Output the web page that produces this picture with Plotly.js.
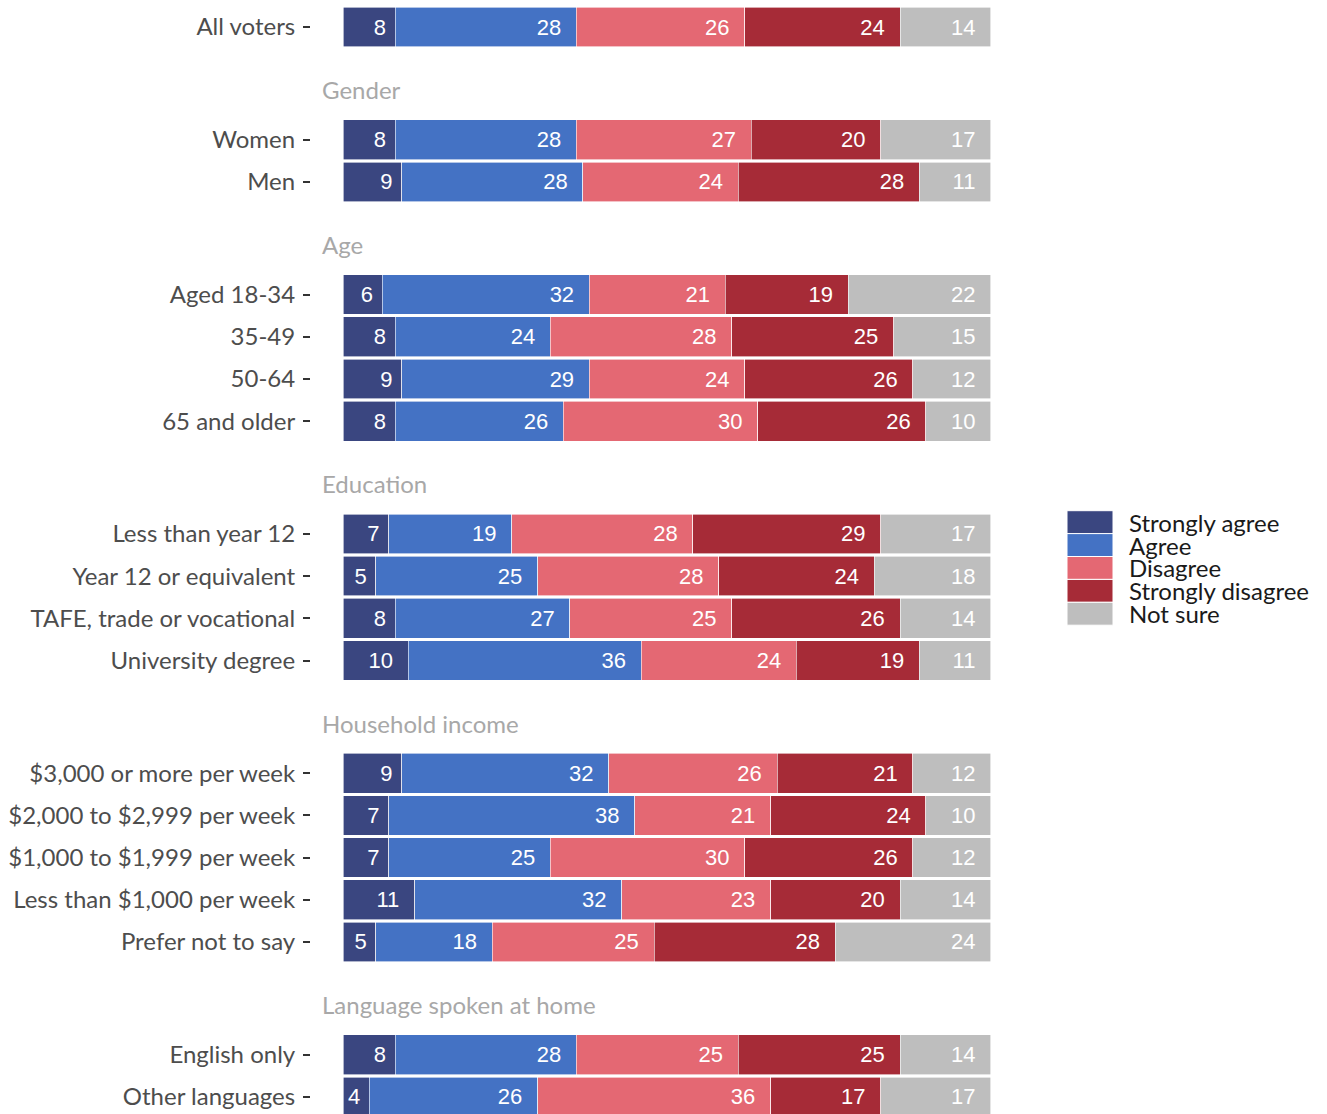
<!DOCTYPE html>
<html>
<head>
<meta charset="utf-8">
<script src="https://cdn.plot.ly/plotly-3.0.1.min.js"></script>
<style>html,body{margin:0;padding:0;overflow:hidden;background:#fff}</style>
</head>
<body>
<div id="chart" style="width:1327px;height:1118px"></div>
<script>
// ---- data ----
const categories = [
  "All voters",
  "Women", "Men",
  "Aged 18-34", "35-49", "50-64", "65 and older",
  "Less than year 12", "Year 12 or equivalent", "TAFE, trade or vocational", "University degree",
  "$3,000 or more per week", "$2,000 to $2,999 per week", "$1,000 to $1,999 per week", "Less than $1,000 per week", "Prefer not to say",
  "English only", "Other languages"
];
const groupOfRow = [0, 1,1, 2,2,2,2, 3,3,3,3, 4,4,4,4,4, 5,5];
const groupTitles = ["", "Gender", "Age", "Education", "Household income", "Language spoken at home"];

const seriesNames = ["Strongly agree", "Agree", "Disagree", "Strongly disagree", "Not sure"];
const stronglyAgree    = [8, 8, 9, 6, 8, 9, 8, 7, 5, 8, 10, 9, 7, 7, 11, 5, 8, 4];
const agree            = [28, 28, 28, 32, 24, 29, 26, 19, 25, 27, 36, 32, 38, 25, 32, 18, 28, 26];
const disagree         = [26, 27, 24, 21, 28, 24, 30, 28, 28, 25, 24, 26, 21, 30, 23, 25, 25, 36];
const stronglyDisagree = [24, 20, 28, 19, 25, 26, 26, 29, 24, 26, 19, 21, 24, 26, 20, 28, 25, 17];
const notSure          = [14, 17, 11, 22, 15, 12, 10, 17, 18, 14, 11, 12, 10, 12, 14, 24, 14, 17];
const seriesValues = [stronglyAgree, agree, disagree, stronglyDisagree, notSure];
const seriesColors = ["#3A4680", "#4472C4", "#E46873", "#A62B37", "#BEBEBE"];

// ---- layout geometry (pixels) ----
const W = 1327, H = 1118;
const ML = 311, MR = 304;
const topPad = 5.9, rowH = 42.2, gapH = 70.5;
const labelFont = "Lato, 'Open Sans', sans-serif";
const numFont = "'Liberation Sans', Arial, sans-serif";

const pad = v => String(v) + "\u00a0".repeat(String(v).length);

const nGroups = groupTitles.length;
const layout = {
  width: W, height: H,
  margin: {l: ML, r: MR, t: 0, b: 0, pad: 0},
  paper_bgcolor: "#ffffff", plot_bgcolor: "#ffffff",
  barmode: "stack", bargap: 0.06,
  showlegend: false,
  uniformtext: {minsize: 22, mode: "show"},
  xaxis: {range: [-5, 105], visible: false, domain: [0, 1], anchor: "y", fixedrange: true},
  annotations: [], shapes: []
};
const traces = [];
let cursor = topPad;
for (let g = 0; g < nGroups; g++) {
  const idx = [];
  groupOfRow.forEach((gg, i) => { if (gg === g) idx.push(i); });
  const n = idx.length;
  const topPx = cursor, botPx = cursor + n * rowH;
  cursor = botPx + gapH;
  const axKey = g === 0 ? "yaxis" : "yaxis" + (g + 1);
  const axRef = g === 0 ? "y" : "y" + (g + 1);
  const rows = idx.map(i => categories[i]);
  layout[axKey] = {
    domain: [Math.max(0, 1 - botPx / H), 1 - topPx / H],
    anchor: "x", type: "category",
    categoryorder: "array", categoryarray: rows,
    range: [n - 0.5, -0.5],
    ticks: "outside", ticklen: 7, tickwidth: 2, tickcolor: "#333333",
    ticklabelstandoff: 3,
    tickfont: {family: labelFont, size: 24, color: "#4d4d4d"},
    showgrid: false, zeroline: false, showline: false, automargin: false, fixedrange: true
  };
  if (groupTitles[g]) {
    layout.annotations.push({
      xref: "paper", x: 0, xanchor: "left", xshift: 9,
      yref: "paper", y: 1 - topPx / H, yanchor: "middle", yshift: 29,
      text: groupTitles[g], showarrow: false,
      font: {family: labelFont, size: 24, color: "#a8a8a8"}
    });
  }
  seriesNames.forEach((name, s) => {
    const vals = idx.map(i => seriesValues[s][i]);
    traces.push({
      type: "bar", orientation: "h", name: name,
      x: vals, y: rows, xaxis: "x", yaxis: axRef,
      marker: {color: seriesColors[s], line: {color: "#ffffff", width: 0.6}},
      text: vals.map(pad), textposition: "inside", insidetextanchor: "end",
      textangle: 0, constraintext: "none",
      textfont: {family: numFont, size: 22, color: "#ffffff"},
      hovertemplate: "%{y}<br>" + name + ": %{x}<extra></extra>",
      legendgroup: name, showlegend: false
    });
  });
}

// ---- legend (drawn as boxes + text) ----
const plotW = W - ML - MR;
const legX0 = (1067 - ML) / plotW, legX1 = (1113 - ML) / plotW, legTx = (1127 - ML) / plotW;
const legTop = 510.7, legH = 22.9;
seriesNames.forEach((name, s) => {
  const y0 = legTop + s * legH, y1 = y0 + legH;
  layout.shapes.push({
    type: "rect", xref: "paper", yref: "paper",
    x0: legX0, x1: legX1, y0: 1 - y1 / H, y1: 1 - y0 / H,
    fillcolor: seriesColors[s], line: {color: "#ffffff", width: 1}
  });
  layout.annotations.push({
    xref: "paper", x: legTx, xanchor: "left",
    yref: "paper", y: 1 - (y0 + legH / 2) / H, yanchor: "middle",
    text: name, showarrow: false,
    font: {family: labelFont, size: 24, color: "#1a1a1a"}
  });
});

Plotly.newPlot("chart", traces, layout, {displayModeBar: false, staticPlot: true});
</script>
</body>
</html>
